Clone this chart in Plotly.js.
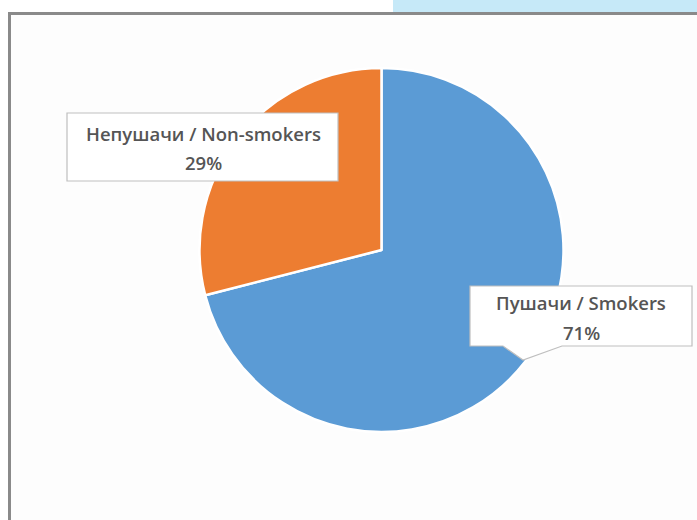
<!DOCTYPE html>
<html>
<head>
<meta charset="utf-8">
<script src="https://cdn.plot.ly/plotly-3.0.1.min.js"></script>
<style>html,body{margin:0;padding:0;background:#fff;}#chart{width:697px;height:520px;}</style>
</head>
<body>
<div id="chart"></div>
<script>
const labels = ["Пушачи / Smokers", "Непушачи / Non-smokers"];
const values = [71, 29];
const colors = ["#5b9bd5", "#ed7d31"];

const W = 697, H = 520;
const X = px => px / W;
const Y = py => 1 - py / H;
const total = values.reduce((a, b) => a + b, 0);
const pct = values.map(v => Math.round(v / total * 100) + "%");

// label box geometry (pixels)
const boxes = [
  {l: 470, t: 286, r: 692, b: 346, ptr: [[503, 346], [523, 360], [562, 346]], cx: 581, y1: 302, y2: 332},
  {l: 67, t: 113, r: 338, b: 181, ptr: null, cx: 203, y1: 133, y2: 162}
];

function boxPath(bx) {
  let p = `M ${X(bx.l)},${Y(bx.t)} L ${X(bx.r)},${Y(bx.t)} L ${X(bx.r)},${Y(bx.b)} `;
  if (bx.ptr) {
    p += `L ${X(bx.ptr[2][0])},${Y(bx.ptr[2][1])} L ${X(bx.ptr[1][0])},${Y(bx.ptr[1][1])} L ${X(bx.ptr[0][0])},${Y(bx.ptr[0][1])} `;
  }
  p += `L ${X(bx.l)},${Y(bx.b)} Z`;
  return p;
}

const shapes = [
  {type: "rect", xref: "paper", yref: "paper", layer: "below", x0: X(9.5), x1: 1.05, y0: Y(13.5), y1: -0.05,
   line: {color: "#8a8a8a", width: 3}, fillcolor: "#fdfdfd"},
  {type: "rect", xref: "paper", yref: "paper", layer: "below", x0: X(393), x1: 1, y0: Y(12), y1: 1,
   line: {width: 0}, fillcolor: "#c6e9f8"}
];
boxes.forEach(bx => shapes.push({type: "path", xref: "paper", yref: "paper", layer: "above",
  path: boxPath(bx), fillcolor: "#ffffff", line: {color: "#bfbfbf", width: 1.2}}));

const font = {family: "Open Sans, sans-serif", size: 18.5, color: "#555555", weight: 600};
const annotations = [];
boxes.forEach((bx, i) => {
  annotations.push({xref: "paper", yref: "paper", x: X(bx.cx), y: Y(bx.y1), text: labels[i], showarrow: false,
    xanchor: "center", yanchor: "middle", font: font});
  annotations.push({xref: "paper", yref: "paper", x: X(bx.cx), y: Y(bx.y2), text: pct[i], showarrow: false,
    xanchor: "center", yanchor: "middle", font: font});
});

const data = [{
  type: "pie",
  labels: labels,
  values: values,
  sort: false,
  direction: "clockwise",
  rotation: 0,
  textinfo: "none",
  hoverinfo: "label+percent",
  marker: {colors: colors, line: {color: "#ffffff", width: 2.5}},
  domain: {x: [X(199.5), X(563.5)], y: [Y(432), Y(68)]},
  showlegend: false
}];

const layout = {
  width: W, height: H,
  margin: {l: 0, r: 0, t: 0, b: 0},
  paper_bgcolor: "#ffffff",
  showlegend: false,
  shapes: shapes,
  annotations: annotations
};

Plotly.newPlot("chart", data, layout, {displayModeBar: false, staticPlot: true});
</script>
</body>
</html>
